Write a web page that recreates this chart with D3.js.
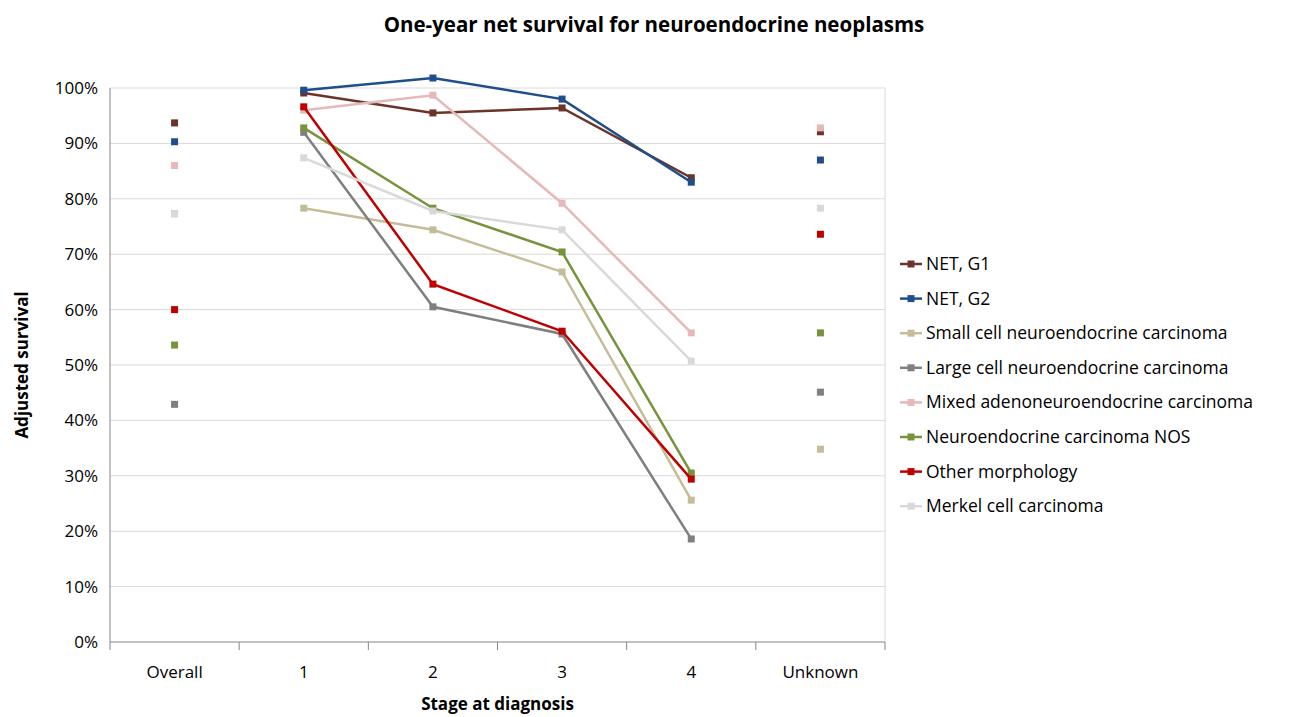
<!DOCTYPE html>
<html><head><meta charset="utf-8">
<script src="https://cdn.jsdelivr.net/npm/d3@7"></script>
<style>body{margin:0;background:#fff;font-family:"Open Sans",sans-serif}</style>
</head><body>
<svg id="chart" width="1309" height="717"></svg>
<script>
// Data
const categories = ["Overall", "1", "2", "3", "4", "Unknown"];
const seriesNames = ["NET, G1", "NET, G2", "Small cell neuroendocrine carcinoma", "Large cell neuroendocrine carcinoma",
  "Mixed adenoneuroendocrine carcinoma", "Neuroendocrine carcinoma NOS", "Other morphology", "Merkel cell carcinoma"];
const colors = ["#6b3329", "#1f4e8c", "#c4bd97", "#7f7f7f", "#e6b9b8", "#77933c", "#c00000", "#d9d9d9"];
const netG1 = [93.7, 99.1, 95.5, 96.4, 83.8, 92.1];
const netG2 = [90.3, 99.6, 101.8, 98.0, 83.0, 87.0];
const smallCell = [77.3, 78.3, 74.4, 66.8, 25.6, 34.8];
const largeCell = [42.9, 92.0, 60.5, 55.6, 18.6, 45.1];
const mixed = [86.0, 96.0, 98.7, 79.2, 55.8, 92.8];
const necNos = [53.6, 92.8, 78.3, 70.4, 30.5, 55.8];
const other = [60.0, 96.6, 64.6, 56.1, 29.4, 73.6];
const merkel = [77.3, 87.4, 77.8, 74.4, 50.7, 78.3];
const allSeries = [netG1, netG2, smallCell, largeCell, mixed, necNos, other, merkel];
const yTicks = d3.range(0, 101, 10);

const svg = d3.select("#chart");
const mLeft = 110, mRight = 885, mTop = 88, mBottom = 642;

const x = d3.scaleBand().domain(categories).range([mLeft, mRight]);
const y = d3.scaleLinear().domain([0, 100]).range([mBottom, mTop]);

svg.append("text").attr("x", 654).attr("y", 32).attr("text-anchor", "middle")
  .attr("font-size", 20.5).attr("font-weight", "bold").text("One-year net survival for neuroendocrine neoplasms");

// grid
svg.selectAll(".grid").data(yTicks.slice(1)).join("line")
  .attr("x1", mLeft).attr("x2", mRight).attr("y1", d => y(d)).attr("y2", d => y(d))
  .attr("stroke", "#d9d9d9");
svg.append("line").attr("x1", mRight).attr("x2", mRight).attr("y1", mTop).attr("y2", mBottom).attr("stroke", "#d9d9d9");

// y axis
svg.append("line").attr("x1", mLeft).attr("x2", mLeft).attr("y1", mTop).attr("y2", mBottom).attr("stroke", "#868686");
svg.selectAll(".yt").data(yTicks).join("text")
  .attr("x", mLeft - 12).attr("y", d => y(d) + 6).attr("text-anchor", "end")
  .attr("font-size", 17).text(d => d + "%");
svg.append("text").attr("transform", `translate(28,${(mTop + mBottom) / 2}) rotate(-90)`)
  .attr("text-anchor", "middle").attr("font-size", 17).attr("font-weight", "bold").text("Adjusted survival");

// x axis
svg.append("line").attr("x1", mLeft).attr("x2", mRight).attr("y1", mBottom).attr("y2", mBottom).attr("stroke", "#868686");
const bounds = categories.map(c => x(c)).concat([mRight]);
svg.selectAll(".xtick").data(bounds).join("line")
  .attr("x1", d => d).attr("x2", d => d).attr("y1", mBottom).attr("y2", mBottom + 8).attr("stroke", "#868686");
svg.selectAll(".xt").data(categories).join("text")
  .attr("x", d => x(d) + x.bandwidth() / 2).attr("y", mBottom + 36).attr("text-anchor", "middle")
  .attr("font-size", 17).text(d => d);
svg.append("text").attr("x", (mLeft + mRight) / 2).attr("y", 710).attr("text-anchor", "middle")
  .attr("font-size", 17).attr("font-weight", "bold").text("Stage at diagnosis");

const cx = c => x(c) + x.bandwidth() / 2;
const line = d3.line().x(d => cx(d.c)).y(d => y(d.v));

allSeries.forEach((vals, i) => {
  const pts = vals.map((v, j) => ({ c: categories[j], v }));
  svg.append("path").datum(pts.slice(1, 5)).attr("d", line)
    .attr("fill", "none").attr("stroke", colors[i]).attr("stroke-width", 2.5);
  svg.selectAll(null).data(pts).join("rect")
    .attr("x", d => cx(d.c) - 3.5).attr("y", d => y(d.v) - 3.5)
    .attr("width", 7).attr("height", 7).attr("fill", colors[i]);
});

// legend
const lg = svg.append("g");
seriesNames.forEach((n, i) => {
  const ly = 264 + i * 34.6;
  lg.append("line").attr("x1", 900).attr("x2", 922).attr("y1", ly).attr("y2", ly)
    .attr("stroke", colors[i]).attr("stroke-width", 2.5);
  lg.append("rect").attr("x", 907.5).attr("y", ly - 3.5).attr("width", 7).attr("height", 7).attr("fill", colors[i]);
  lg.append("text").attr("x", 926).attr("y", ly + 6).attr("font-size", 17.5).text(n);
});
</script>
</body></html>
